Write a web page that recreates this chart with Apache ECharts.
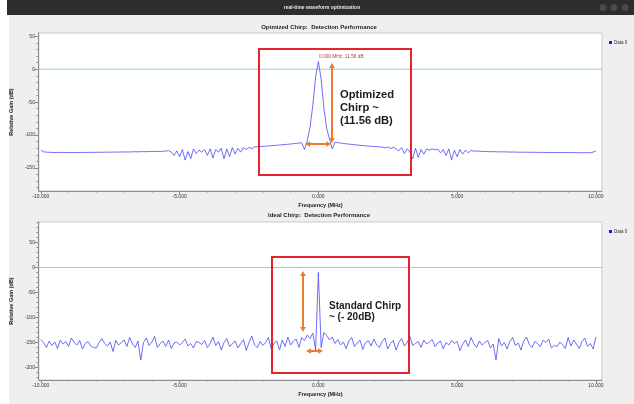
<!DOCTYPE html>
<html>
<head>
<meta charset="utf-8">
<script src="https://cdn.jsdelivr.net/npm/echarts@6/dist/echarts.min.js"></script>
<style>
html, body { margin: 0; padding: 0; background: #fff; }
#chart { width: 634px; height: 404px; }
</style>
</head>
<body>
<div id="chart"></div>
<script>
// frequency grid, MHz (0.1 MHz steps from -10 to 10)
var FREQ = [];
for (var i = 0; i <= 200; i++) FREQ.push(Math.round(i - 100) / 10);

// optimized chirp, relative gain (dB)
var GAIN_OPT = [
  -123, -125.5, -126, -126.2, -126.4, -126.5, -126.3, -126.6, -126.4, -126.5,
  -126.6, -126.4, -126.7, -126.5, -126.6, -126.3, -126.5, -126.4, -126.2, -126.4,
  -126.3, -126.1, -126.2, -126.0, -126.1, -125.9, -126.0, -125.8, -125.9, -125.7,
  -125.8, -125.6, -125.7, -125.5, -125.4, -125.5, -125.3, -125.2, -125.3, -125.0,
  -125.1, -124.9, -124.8, -124.9, -124.6, -124.5, -123.5, -126, -131, -124,
  -133, -122, -138, -125, -136, -121, -128, -123, -126, -122,
  -131, -121, -135, -122, -126, -120, -136, -121, -133, -119,
  -129, -120, -126, -119, -122, -118.5, -121, -118, -117.8, -117.5,
  -117.3, -117, -116.6, -116.2, -115.9, -115.5, -115.1, -114.8, -114.4, -114,
  -113.6, -113.2, -112.7, -112.2, -111.8, -122, -108, -88, -55, -12,
  11.56, -15, -60, -90, -106, -121, -111, -111.6, -112.2, -112.8,
  -113.3, -113.8, -114.3, -114.7, -115.2, -115.6, -116, -116.4, -116.8, -117.1,
  -117.4, -117.7, -118, -118.3, -119.5, -118, -120.5, -118.5, -121, -124,
  -119, -128, -121, -126, -136, -120, -134, -122, -129, -121,
  -123, -121, -122.5, -121.5, -127, -122, -131, -121, -138, -123,
  -133, -122, -129, -123, -127, -123.5, -124.5, -124.3, -124.6, -124.8,
  -125, -125.1, -125.3, -125.2, -125.4, -125.5, -125.6, -125.5, -125.7, -125.8,
  -125.8, -125.9, -126.0, -126.1, -126.0, -126.2, -126.1, -126.3, -126.2, -126.4,
  -126.3, -126.4, -126.5, -126.4, -126.6, -126.5, -126.6, -126.7, -126.5, -126.6,
  -126.7, -126.6, -126.8, -126.7, -126.9, -126.8, -126.7, -126.9, -126.6, -126,
  -124
];

// ideal chirp, relative gain (dB)
var GAIN_IDEAL = [
  -144, -150, -160, -147, -156, -149, -162, -145, -153, -148,
  -158, -141, -150, -155, -146, -163, -152, -148, -157, -160,
  -161, -150, -142, -152, -157, -149, -168, -146, -155, -150,
  -145, -158, -140, -153, -160, -147, -185, -150, -141, -156,
  -149, -138, -160, -152, -147, -158, -145, -162, -151, -149,
  -155, -150, -143, -157, -152, -161, -148, -150, -154, -146,
  -160, -152, -139, -156, -148, -165, -150, -142, -158, -153,
  -147, -161, -152, -144, -166, -150, -137, -155, -160, -148,
  -156, -150, -140, -163, -152, -147, -165, -145, -158, -139,
  -155, -147, -143, -160, -140, -146, -135, -142, -131, -165,
  -10, -160, -130, -136, -145, -139, -152, -144, -155, -149,
  -162, -147, -140, -158, -151, -145, -164, -150, -146, -157,
  -143, -155, -160, -148, -141, -163, -152, -146, -165, -150,
  -142, -157, -150, -138, -156, -152, -148, -160, -145, -153,
  -149, -144, -158, -151, -147, -163, -150, -155, -146, -152,
  -148, -166, -153, -145, -158, -140, -152, -160, -147, -155,
  -150, -146, -161, -153, -185, -142, -157, -150, -163, -148,
  -140, -156, -151, -165, -147, -139, -154, -160, -148, -152,
  -158, -145, -150, -143, -161, -156, -158, -149, -154, -162,
  -140, -157, -145, -153, -162, -148, -141, -158, -152, -163,
  -139
];

// 0 dB reference marker, spans the whole canvas
var ZERO_REF = [[-10.07, 0], [10.22, 0]];

var X_TICKS = [-10, -5, 0, 5, 10];
var X_MINOR = [-9, -8, -7, -6, -4, -3, -2, -1, 1, 2, 3, 4, 6, 7, 8, 9];
var Y_TICKS_OPT = [50, 0, -50, -100, -150];
var Y_TICKS_IDEAL = [50, 0, -50, -100, -150, -200];

function tens(lo, hi) {
  var out = [];
  for (var v = lo; v <= hi; v += 10) out.push(v);
  return out;
}

var AXIS_COLOR = '#8c8c8c';
var LABEL_FONT = 'Liberation Sans';

function xAxes(gi) {
  return [{
    gridIndex: gi, type: 'value', min: -10.07, max: 10.22, position: 'bottom',
    axisLine: { show: true, onZero: false, lineStyle: { color: AXIS_COLOR } },
    axisTick: { show: true, customValues: X_TICKS, length: 3, lineStyle: { color: AXIS_COLOR } },
    axisLabel: {
      customValues: X_TICKS, fontSize: 5, color: '#333', margin: 3, fontFamily: LABEL_FONT,
      formatter: function (v) { return v.toFixed(3); }
    },
    splitLine: { show: false },
    name: 'Frequency (MHz)', nameLocation: 'middle', nameGap: 11,
    nameTextStyle: { fontSize: 5.5, fontWeight: 'bold', color: '#222', fontFamily: LABEL_FONT }
  }, {
    gridIndex: gi, type: 'value', min: -10.07, max: 10.22, position: 'bottom',
    axisLine: { show: false, onZero: false },
    axisTick: { show: true, customValues: X_MINOR, length: 1.5, lineStyle: { color: AXIS_COLOR } },
    axisLabel: { show: false }, splitLine: { show: false }
  }];
}

function yAxes(gi, lo, hi, ticks) {
  return [{
    gridIndex: gi, type: 'value', min: lo, max: hi, position: 'left', offset: 1,
    axisLine: { show: true, onZero: false, lineStyle: { color: AXIS_COLOR } },
    axisTick: { show: true, customValues: ticks, length: 3, lineStyle: { color: AXIS_COLOR } },
    axisLabel: { customValues: ticks, fontSize: 5, color: '#333', margin: 3, fontFamily: LABEL_FONT },
    splitLine: { show: false },
    name: 'Relative Gain (dB)', nameLocation: 'middle', nameGap: 12,
    nameTextStyle: { fontSize: 5.5, fontWeight: 'bold', color: '#222', fontFamily: LABEL_FONT }
  }, {
    gridIndex: gi, type: 'value', min: lo, max: hi, position: 'left', offset: 1,
    axisLine: { show: false, onZero: false },
    axisTick: { show: true, customValues: tens(Math.ceil(lo / 10) * 10, hi), length: 1.5, lineStyle: { color: AXIS_COLOR } },
    axisLabel: { show: false }, splitLine: { show: false }
  }];
}

function zeroRef(gi) {
  return {
    name: 'zero', type: 'line', xAxisIndex: gi * 2, yAxisIndex: gi * 2,
    data: ZERO_REF, symbol: 'none', silent: true, z: 1,
    lineStyle: { color: '#8fd3d3', width: 1 }
  };
}

function trace(gi, gains) {
  return {
    name: 'Data 0', type: 'line', xAxisIndex: gi * 2, yAxisIndex: gi * 2,
    data: FREQ.map(function (f, k) { return [f, gains[k]]; }),
    symbol: 'none', z: 3,
    itemStyle: { color: '#1515ff' },
    lineStyle: { color: '#4c4cf4', width: 0.9, opacity: 0.9 }
  };
}

function legend(top) {
  return {
    data: ['Data 0'], left: 604, top: top, icon: 'rect', itemWidth: 3, itemHeight: 3,
    selectedMode: false, textStyle: { fontSize: 4.5, color: '#333', fontFamily: LABEL_FONT, padding: [0, 0, 0, -3] }
  };
}

var ORANGE = '#ec7a33';
function arrow(x1, y1, x2, y2) {
  var dx = x2 - x1, dy = y2 - y1, len = Math.sqrt(dx * dx + dy * dy);
  var ux = dx / len, uy = dy / len, px = -uy, py = ux, h = 5, w = 2.8;
  function head(x, y, sx, sy) {
    return {
      type: 'polygon', z: 100,
      shape: { points: [[x, y], [x - sx * h + px * w, y - sy * h + py * w], [x - sx * h - px * w, y - sy * h - py * w]] },
      style: { fill: ORANGE }
    };
  }
  return [
    { type: 'line', z: 100, shape: { x1: x1 + ux * 3, y1: y1 + uy * 3, x2: x2 - ux * 3, y2: y2 - uy * 3 }, style: { stroke: ORANGE, lineWidth: 2 } },
    head(x2, y2, ux, uy),
    head(x1, y1, -ux, -uy)
  ];
}

function label(text, x, y, font, fill, align) {
  return {
    type: 'text', z: 100, x: x, y: y,
    style: { text: text, font: font, fill: fill || '#1c1c1c', textAlign: align || 'left', textVerticalAlign: 'middle' }
  };
}

var graphics = [
  { type: 'rect', z: 100, shape: { x: 0, y: 0, width: 9, height: 404 }, style: { fill: '#ffffff' } },
  { type: 'rect', z: 100, shape: { x: 7, y: 0, width: 627, height: 15 }, style: { fill: '#2d2d2d' } },
  label('real-time waveform optimization', 322, 7.5, 'bold 5px "Liberation Sans"', '#e6e6e6', 'center'),
  { type: 'circle', z: 100, shape: { cx: 603, cy: 7.5, r: 3.5 }, style: { fill: '#4a4a4a' } },
  { type: 'circle', z: 100, shape: { cx: 614, cy: 7.5, r: 3.5 }, style: { fill: '#4a4a4a' } },
  { type: 'circle', z: 100, shape: { cx: 625, cy: 7.5, r: 3.5 }, style: { fill: '#4a4a4a' } },
  label('Optmized Chirp:  Detection Performance', 319, 27.5, 'bold 6px "Liberation Sans"', '#1e1e1e', 'center'),
  label('Ideal Chirp:  Detection Performance', 319, 215.5, 'bold 6px "Liberation Sans"', '#1e1e1e', 'center'),
  { type: 'rect', z: 100, shape: { x: 259, y: 49, width: 152, height: 126 }, style: { fill: null, stroke: '#e3242d', lineWidth: 2 } },
  { type: 'rect', z: 100, shape: { x: 272, y: 257, width: 137, height: 116 }, style: { fill: null, stroke: '#e3242d', lineWidth: 2 } },
  label('0.000 MHz, 11.56 dB', 319, 56.5, '4.8px "Liberation Sans"', '#b0402e'),
  label('Optimized', 340, 94.5, 'bold 11.2px "Liberation Sans"'),
  label('Chirp ~', 340, 107.5, 'bold 11.2px "Liberation Sans"'),
  label('(11.56 dB)', 340, 121, 'bold 11.2px "Liberation Sans"'),
  label('Standard Chirp', 329, 306, 'bold 10px "Liberation Sans"'),
  label('~ (- 20dB)', 329, 317.5, 'bold 10px "Liberation Sans"')
].concat(
  arrow(332, 63, 332, 143),
  arrow(305, 144, 331, 144),
  arrow(303, 271, 303, 332),
  arrow(306, 351, 323, 351)
);

var chart = echarts.init(document.getElementById('chart'), null, { renderer: 'canvas' });
chart.setOption({
  backgroundColor: '#efefef',
  animation: false,
  grid: [
    { left: 36, right: 32, top: 33, height: 158, show: true, backgroundColor: '#ffffff', borderColor: '#c9c9c9', borderWidth: 1 },
    { left: 36, right: 32, top: 222, height: 158, show: true, backgroundColor: '#ffffff', borderColor: '#c9c9c9', borderWidth: 1 }
  ],
  xAxis: xAxes(0).concat(xAxes(1)),
  yAxis: yAxes(0, -185, 55, Y_TICKS_OPT).concat(yAxes(1, -225, 91, Y_TICKS_IDEAL)),
  legend: [legend(35), legend(224)],
  series: [zeroRef(0), trace(0, GAIN_OPT), zeroRef(1), trace(1, GAIN_IDEAL)],
  graphic: graphics
});
</script>
</body>
</html>
